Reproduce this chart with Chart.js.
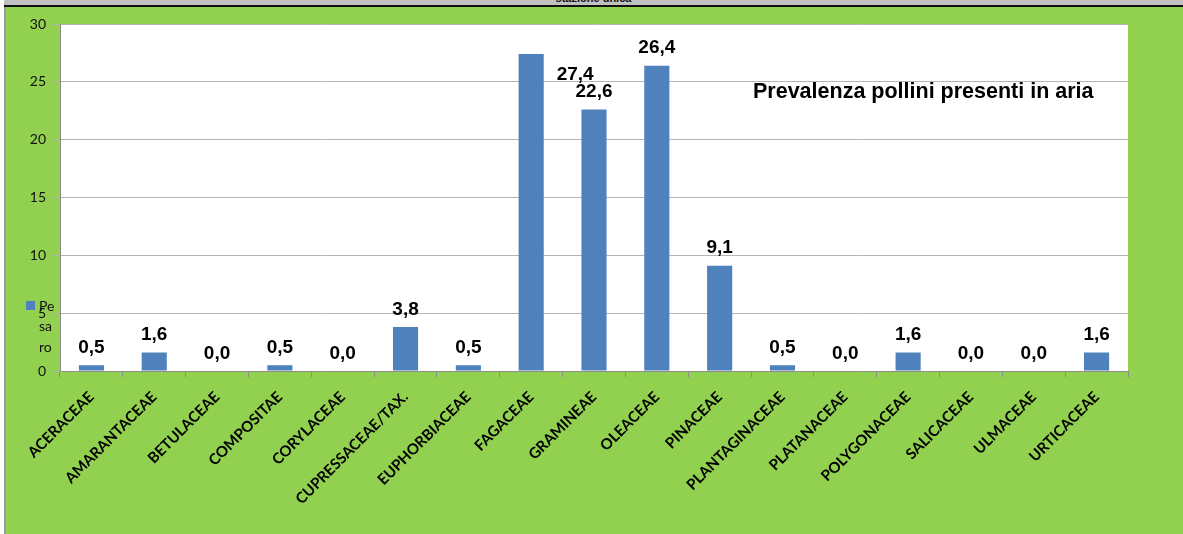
<!DOCTYPE html>
<html>
<head>
<meta charset="utf-8">
<script src="https://cdn.jsdelivr.net/npm/chart.js@4.4.0/dist/chart.umd.min.js"></script>
<style>
  html, body { margin: 0; padding: 0; background: #fff; }
  #band {
    position: absolute; left: 4px; top: 0; width: 1179px; height: 5px;
    background: #c0c0c0; border-bottom: 2px solid #111; overflow: hidden;
  }
  #band span {
    position: absolute; left: 0; width: 100%; top: -8px; text-align: center;
    font: bold 11px "Liberation Sans", Arial, sans-serif; color: #111;
  }
  #frame {
    position: absolute; left: 4px; top: 7px; width: 1179px; height: 527px;
    background: #92d050; border-left: 2px solid #9a9a9a; box-sizing: border-box;
  }
  #wrap { position: absolute; left: 6px; top: 7px; width: 1177px; height: 527px; }
</style>
</head>
<body>
<div id="band"><span>stazione unica</span></div>
<div id="frame"></div>
<div id="wrap"><canvas id="chart"></canvas></div>
<script>
const categories = ['ACERACEAE', 'AMARANTACEAE', 'BETULACEAE', 'COMPOSITAE', 'CORYLACEAE',
  'CUPRESSACEAE/TAX.', 'EUPHORBIACEAE', 'FAGACEAE', 'GRAMINEAE', 'OLEACEAE', 'PINACEAE',
  'PLANTAGINACEAE', 'PLATANACEAE', 'POLYGONACEAE', 'SALICACEAE', 'ULMACEAE', 'URTICACEAE'];
const pesaro = [0.5, 1.6, 0.0, 0.5, 0.0, 3.8, 0.5, 27.4, 22.6, 26.4, 9.1, 0.5, 0.0, 1.6, 0.0, 0.0, 1.6];
const seriesName = 'Pesaro';
const chartTitle = 'Prevalenza pollini presenti in aria';
const yTicks = [0, 5, 10, 15, 20, 25, 30];

const barColor = '#4f81bd';

// white plot area on the green frame
const plotBg = {
  id: 'plotBg',
  beforeDraw(chart) {
    const a = chart.chartArea;
    chart.ctx.save();
    chart.ctx.fillStyle = '#fff';
    chart.ctx.fillRect(a.left, a.top, a.right - a.left, a.bottom - a.top);
    chart.ctx.restore();
  }
};

// value labels, title inside plot, odd wrapped legend on the left
const decorations = {
  id: 'decorations',
  afterDatasetsDraw(chart) {
    const ctx = chart.ctx;
    const meta = chart.getDatasetMeta(0);
    ctx.save();
    ctx.fillStyle = '#000';
    ctx.font = 'bold 19px "Liberation Sans", Arial, sans-serif';
    ctx.textAlign = 'center';
    ctx.textBaseline = 'bottom';
    meta.data.forEach((bar, i) => {
      const txt = pesaro[i].toFixed(1).replace('.', ',');
      if (i === 7) {
        // excel moved this one beside the bar
        ctx.fillText(txt, bar.x + 44, bar.y + 30);
      } else {
        ctx.fillText(txt, bar.x, bar.y - 8);
      }
    });

    ctx.font = 'bold 21.5px "Liberation Sans", Arial, sans-serif';
    ctx.textAlign = 'left';
    ctx.textBaseline = 'middle';
    ctx.fillText(chartTitle, 747, 85);

    ctx.fillStyle = barColor;
    ctx.fillRect(20, 294, 9, 9);
    ctx.fillStyle = '#111';
    ctx.font = '14px Lato, sans-serif';
    ctx.textBaseline = 'middle';
    ['Pe', 'sa', 'ro'].forEach((s, k) => {
      ctx.fillText(s, 33, 299 + k * 20.5);
    });
    ctx.restore();
  }
};

new Chart(document.getElementById('chart'), {
  type: 'bar',
  data: {
    labels: categories,
    datasets: [{
      label: seriesName,
      data: pesaro,
      backgroundColor: barColor,
      borderWidth: 0,
      barPercentage: 0.4,
      categoryPercentage: 1.0
    }]
  },
  options: {
    responsive: true,
    maintainAspectRatio: false,
    animation: false,
    layout: { padding: { top: 17, right: 55, left: 0, bottom: 0 } },
    plugins: {
      legend: { display: false },
      tooltip: { enabled: false }
    },
    scales: {
      x: {
        afterFit(scale) { scale.height = 163; },
        grid: {
          offset: true,
          drawOnChartArea: false,
          color: '#8c8c8c',
          tickLength: 6
        },
        border: { color: '#8c8c8c' },
        ticks: {
          minRotation: 45,
          maxRotation: 45,
          autoSkip: false,
          color: '#000',
          padding: 11,
          font: { family: 'Lato', weight: 'bold', size: 15 }
        }
      },
      y: {
        min: 0,
        max: 30,
        afterFit(scale) { scale.width = 54; },
        afterBuildTicks(scale) { scale.ticks = yTicks.map(v => ({ value: v })); },
        grid: {
          color: '#b4b4b4',
          tickLength: 6
        },
        border: { color: '#8c8c8c' },
        ticks: {
          color: '#111',
          padding: 8,
          font: { family: 'Lato', size: 14 }
        }
      }
    }
  },
  plugins: [plotBg, decorations]
});
</script>
</body>
</html>
